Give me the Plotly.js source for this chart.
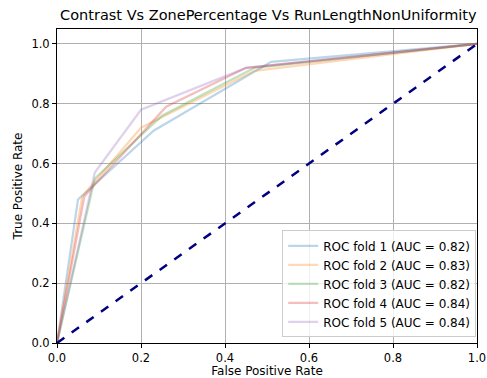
<!DOCTYPE html>
<html>
<head>
<meta charset="utf-8">
<script src="https://cdn.plot.ly/plotly-3.0.1.min.js"></script>
<style>html,body{margin:0;padding:0;background:#fff}#chart{width:487px;height:378px}</style>
</head>
<body>
<div id="chart"></div>
<script>
const foldNames = ["ROC fold 1 (AUC = 0.82)","ROC fold 2 (AUC = 0.83)","ROC fold 3 (AUC = 0.82)","ROC fold 4 (AUC = 0.84)","ROC fold 5 (AUC = 0.84)"];
const fold1X = [0, 0.05, 0.23, 0.51, 1];
const fold1Y = [0, 0.48, 0.71, 0.94, 1];
const fold2X = [0, 0.06, 0.09, 0.20, 0.47, 1];
const fold2Y = [0, 0.49, 0.54, 0.72, 0.91, 1];
const fold3X = [0, 0.09, 0.25, 0.47, 1];
const fold3Y = [0, 0.55, 0.76, 0.92, 1];
const fold4X = [0, 0.065, 0.09, 0.26, 0.45, 1];
const fold4Y = [0, 0.49, 0.53, 0.79, 0.92, 1];
const fold5X = [0, 0.09, 0.20, 0.45, 1];
const fold5Y = [0, 0.57, 0.78, 0.92, 1];
const chanceX = [0, 1];
const chanceY = [0, 1];
const tickVals = [0, 0.2, 0.4, 0.6, 0.8, 1];
const tickText = ["0.0", "0.2", "0.4", "0.6", "0.8", "1.0"];

const colors = ["rgba(31,119,180,0.3)","rgba(255,127,14,0.3)","rgba(44,160,44,0.3)","rgba(214,39,40,0.3)","rgba(148,103,189,0.3)"];
const xs = [fold1X, fold2X, fold3X, fold4X, fold5X];
const ys = [fold1Y, fold2Y, fold3Y, fold4Y, fold5Y];
const traces = xs.map((x, i) => ({
  x: x, y: ys[i], type: "scatter", mode: "lines", name: foldNames[i],
  line: {color: colors[i], width: 2.2}
}));
traces.push({x: chanceX, y: chanceY, type: "scatter", mode: "lines", showlegend: false,
  line: {color: "#000080", width: 2.5, dash: "dash"}});

const font = {family: "DejaVu Sans, sans-serif", size: 12, color: "#000"};
const tickFont = {family: "DejaVu Sans, sans-serif", size: 11.5, color: "#000"};
const layout = {
  width: 487, height: 378,
  margin: {l: 57, r: 10, t: 29, b: 35},
  paper_bgcolor: "#fff", plot_bgcolor: "#fff",
  font: font,
  title: {text: "Contrast Vs ZonePercentage Vs RunLengthNonUniformity", font: {family: "DejaVu Sans, sans-serif", size: 14.5, color: "#000"}, x: 0.551, xanchor: "center", y: 0.975, yanchor: "top"},
  xaxis: {range: [0, 1], tickvals: tickVals, ticktext: tickText, ticklabeloverflow: "allow", tickfont: tickFont,
    showgrid: true, gridcolor: "#b0b0b0", gridwidth: 1, zeroline: false,
    showline: true, linecolor: "#000", linewidth: 1, mirror: true,
    ticks: "outside", ticklen: 4, tickcolor: "#000",
    title: {text: "False Positive Rate", font: font, standoff: 3}},
  yaxis: {range: [0, 1.05], tickvals: tickVals, ticktext: tickText, tickfont: tickFont,
    showgrid: true, gridcolor: "#b0b0b0", gridwidth: 1, zeroline: false,
    showline: true, linecolor: "#000", linewidth: 1, mirror: true,
    ticks: "outside", ticklen: 4, tickcolor: "#000",
    title: {text: "True Positive Rate", font: font, standoff: 6}},
  legend: {x: 0.998, y: 0.018, xanchor: "right", yanchor: "bottom",
    bgcolor: "rgba(255,255,255,0.8)", bordercolor: "#cccccc", borderwidth: 1,
    font: {family: "DejaVu Sans, sans-serif", size: 12, color: "#000"},
    tracegroupgap: 0, itemwidth: 30}
};
Plotly.newPlot("chart", traces, layout, {displayModeBar: false, staticPlot: true});
</script>
</body>
</html>
